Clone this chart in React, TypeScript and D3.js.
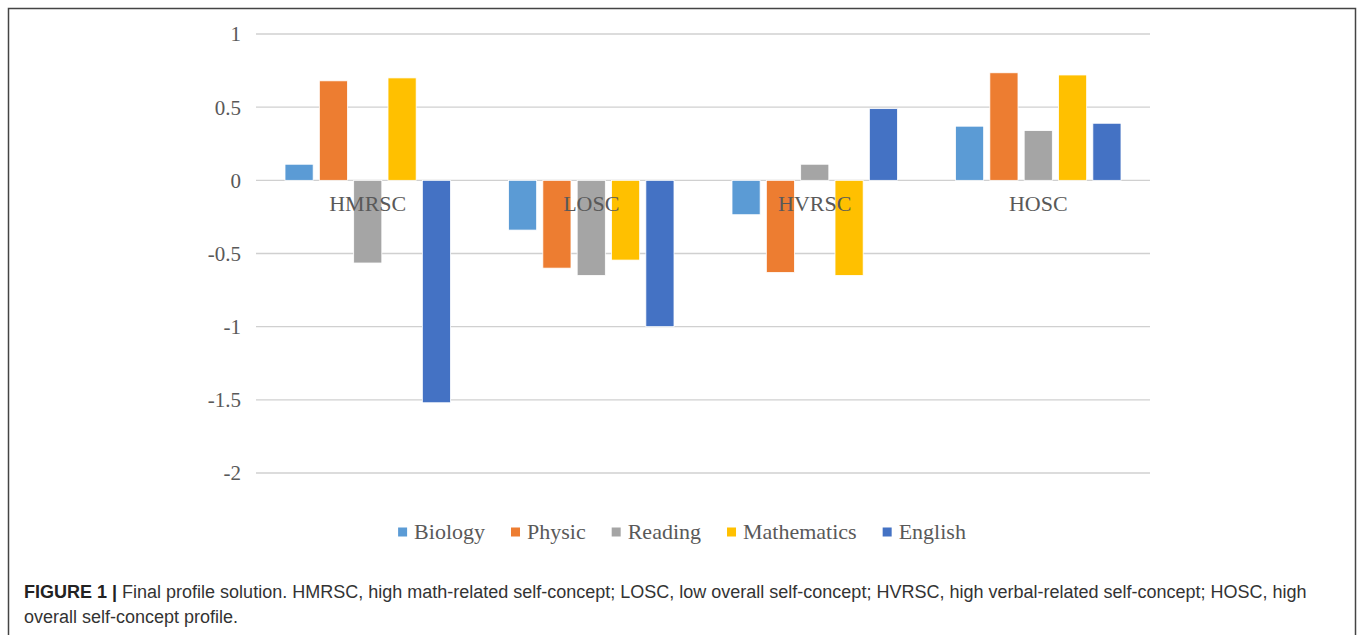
import { useEffect, useRef } from "react";
import * as d3 from "d3";

const categories = ["HMRSC", "LOSC", "HVRSC", "HOSC"];
const subjects = ["Biology", "Physic", "Reading", "Mathematics", "English"];
const colors = ["#5B9BD5", "#ED7D31", "#A5A5A5", "#FFC000", "#4472C4"];

// one value per profile, for each subject
const biology = [0.11, -0.34, -0.235, 0.37];
const physic = [0.68, -0.6, -0.63, 0.735];
const reading = [-0.565, -0.65, 0.11, 0.34];
const mathematics = [0.7, -0.545, -0.65, 0.72];
const english = [-1.52, -1.0, 0.49, 0.39];
const seriesValues = [biology, physic, reading, mathematics, english];

const yTicks = [1, 0.5, 0, -0.5, -1, -1.5, -2];

const W = 1357;
const H = 635;

export default function App() {
  const svgRef = useRef<SVGSVGElement>(null);

  useEffect(() => {
    document.body.style.margin = "0";
    if (!svgRef.current) return;
    const svg = d3.select(svgRef.current);
    svg.selectAll("*").remove();

    const plot = { left: 256, right: 1150, top: 34, bottom: 473 };
    const serif = "'Liberation Serif', 'Times New Roman', serif";
    const sans = "'Liberation Sans', Arial, sans-serif";

    // frame
    svg
      .append("path")
      .attr("d", `M8.5,${H} V8.5 H1355.5 V${H}`)
      .attr("fill", "none")
      .attr("stroke", "#444")
      .attr("stroke-width", 1.5);

    const y = d3.scaleLinear().domain([-2, 1]).range([plot.bottom, plot.top]);
    const x0 = d3.scaleBand<string>().domain(categories).range([plot.left, plot.right]);
    const inset = 29;
    const x1 = d3
      .scaleBand<string>()
      .domain(subjects)
      .range([inset, x0.bandwidth() - inset])
      .paddingInner(0.18);

    // grid
    svg
      .append("g")
      .selectAll("line")
      .data(yTicks)
      .join("line")
      .attr("x1", plot.left)
      .attr("x2", plot.right)
      .attr("y1", (d) => y(d))
      .attr("y2", (d) => y(d))
      .attr("stroke", "#D0D0D0")
      .attr("stroke-width", 1.3);

    // y labels
    svg
      .append("g")
      .selectAll("text")
      .data(yTicks)
      .join("text")
      .attr("x", 241)
      .attr("y", (d) => y(d))
      .attr("dy", "0.35em")
      .attr("text-anchor", "end")
      .style("font-family", serif)
      .style("font-size", "21px")
      .style("fill", "#595959")
      .text((d) => String(d));

    // bars
    subjects.forEach((s, si) => {
      svg
        .append("g")
        .selectAll("rect")
        .data(seriesValues[si])
        .join("rect")
        .attr("x", (_, i) => (x0(categories[i]) || 0) + (x1(s) || 0))
        .attr("width", x1.bandwidth())
        .attr("y", (d) => y(Math.max(0, d)))
        .attr("height", (d) => Math.abs(y(d) - y(0)))
        .attr("fill", colors[si])
        .attr("stroke", "#fff")
        .attr("stroke-width", 0.8);
    });

    // category labels
    svg
      .append("g")
      .selectAll("text")
      .data(categories)
      .join("text")
      .attr("x", (d) => (x0(d) || 0) + x0.bandwidth() / 2)
      .attr("y", y(0) + 23)
      .attr("dy", "0.35em")
      .attr("text-anchor", "middle")
      .style("font-family", serif)
      .style("font-size", "22px")
      .style("fill", "#595959")
      .text((d) => d);

    // legend
    const legend = svg.append("g");
    const markerGap = 16;
    const itemGap = 26;
    let cursor = 0;
    subjects.forEach((s, i) => {
      const item = legend.append("g").attr("transform", `translate(${cursor},0)`);
      item
        .append("rect")
        .attr("x", 0)
        .attr("y", -4.5)
        .attr("width", 9)
        .attr("height", 9)
        .attr("fill", colors[i]);
      const t = item
        .append("text")
        .attr("x", markerGap)
        .attr("dy", "0.33em")
        .style("font-family", serif)
        .style("font-size", "22px")
        .style("fill", "#595959")
        .text(s);
      const w = (t.node() as SVGTextElement).getComputedTextLength();
      cursor += markerGap + w + itemGap;
    });
    const legendW = cursor - itemGap;
    legend.attr("transform", `translate(${(8 + 1356) / 2 - legendW / 2},532)`);

    // caption
    const cap = svg
      .append("text")
      .attr("x", 24)
      .attr("y", 598)
      .style("font-family", sans)
      .style("font-size", "18px")
      .style("fill", "#333");
    cap.append("tspan").style("font-weight", "bold").style("fill", "#222").text("FIGURE 1 | ");
    cap
      .append("tspan")
      .text(
        "Final profile solution. HMRSC, high math-related self-concept; LOSC, low overall self-concept; HVRSC, high verbal-related self-concept; HOSC, high"
      );
    svg
      .append("text")
      .attr("x", 24)
      .attr("y", 623)
      .style("font-family", sans)
      .style("font-size", "18px")
      .style("fill", "#333")
      .text("overall self-concept profile.");
  }, []);

  return <svg ref={svgRef} width={W} height={H} style={{ display: "block", background: "#fff" }} />;
}
